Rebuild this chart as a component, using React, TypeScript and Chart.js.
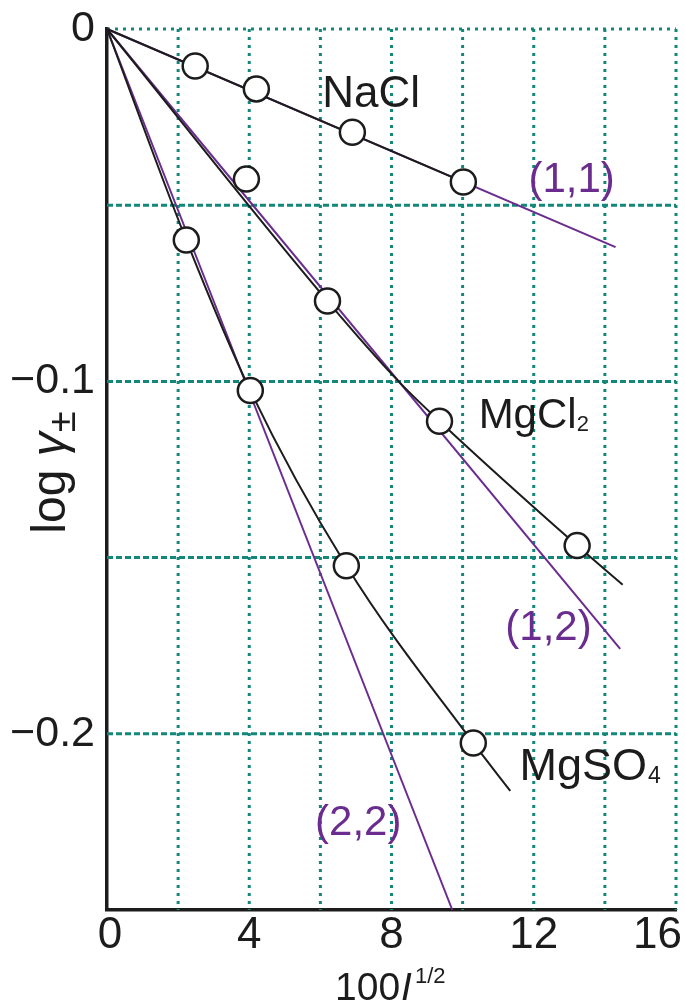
import React, { useEffect, useRef } from "react";
import { Chart, registerables } from "chart.js";

Chart.register(...registerables);

// Measured points (x = 100·I^1/2, y = log γ±)
const naclX = [2.48, 4.2, 6.9, 10.02];
const naclY = [-0.0105, -0.017, -0.0293, -0.0434];
const mgcl2X = [3.92, 6.2, 9.35, 13.22];
const mgcl2Y = [-0.0426, -0.0772, -0.1113, -0.1466];
const mgso4X = [2.23, 4.03, 6.73, 10.3];
const mgso4Y = [-0.0599, -0.1026, -0.1523, -0.2026];

// Black fitted curves
const naclFitX = [0, 10.02];
const naclFitY = [0, -0.0434];
const mgcl2FitX = [0, 6.2, 8.2, 9.35, 13.22, 14.5];
const mgcl2FitY = [0, -0.0772, -0.1, -0.1113, -0.1466, -0.1577];
const mgso4FitX = [0, 2.23, 4.03, 6.73, 10.3, 11.34];
const mgso4FitY = [0, -0.0599, -0.1026, -0.1523, -0.2026, -0.2162];

// Purple limiting-law lines
const lim11X = [0, 14.3];
const lim11Y = [0, -0.0619];
const lim12X = [0, 14.43];
const lim12Y = [0, -0.1759];
const lim22X = [0, 9.71];
const lim22Y = [0, -0.25];

// Axes
const xMin = 0;
const xMax = 16;
const yMin = -0.25;
const yMax = 0;
const xLabelTicks = [0, 4, 8, 12, 16];
const yLabelTicks = [0, -0.1, -0.2];
const yLabelText = ["0", "\u22120.1", "\u22120.2"];
const xGridValues = [2, 4, 6, 8, 10, 12, 14, 16];
const yGridValues = [0, -0.05, -0.1, -0.15, -0.2];

const FONT = '"Liberation Sans", Arial, sans-serif';
const BLACK = "#1c1c1c";
const PURPLE = "#6a2c8e";
const TEAL = "#13877a";

const pts = (xs: number[], ys: number[]) => xs.map((x, i) => ({ x, y: ys[i] }));

type Part = { t: string; size: number; dy?: number; dx?: number; italic?: boolean };

function drawParts(ctx: CanvasRenderingContext2D, parts: Part[], x: number, y: number, color: string) {
  ctx.fillStyle = color;
  ctx.textBaseline = "alphabetic";
  ctx.textAlign = "left";
  let cx = x;
  for (const p of parts) {
    ctx.font = `${p.italic ? "italic " : ""}${p.size}px ${FONT}`;
    cx += p.dx || 0;
    ctx.fillText(p.t, cx, y + (p.dy || 0));
    cx += ctx.measureText(p.t).width;
  }
}

const gridPlugin = {
  id: "customGrid",
  beforeDatasetsDraw(chart: any) {
    const { ctx, chartArea, scales } = chart;
    ctx.save();
    ctx.strokeStyle = TEAL;
    ctx.lineWidth = 3;
    ctx.setLineDash([3, 5]);
    for (const v of xGridValues) {
      const px = scales.x.getPixelForValue(v);
      ctx.beginPath();
      ctx.moveTo(px, chartArea.top);
      ctx.lineTo(px, chartArea.bottom);
      ctx.stroke();
    }
    for (const v of yGridValues) {
      const py = scales.y.getPixelForValue(v);
      ctx.setLineDash(v === 0 ? [3, 5] : [6, 3]);
      ctx.beginPath();
      ctx.moveTo(chartArea.left, py);
      ctx.lineTo(chartArea.right, py);
      ctx.stroke();
    }
    ctx.restore();
  },
};

const textPlugin = {
  id: "customText",
  afterDraw(chart: any) {
    const { ctx, scales, chartArea, width } = chart;
    const X = (v: number) => scales.x.getPixelForValue(v);
    const Y = (v: number) => scales.y.getPixelForValue(v);
    ctx.save();
    // x tick labels (last one kept inside the canvas)
    ctx.font = `44px ${FONT}`;
    ctx.fillStyle = BLACK;
    ctx.textBaseline = "alphabetic";
    xLabelTicks.forEach((v, i) => {
      const label = String(v);
      const w = ctx.measureText(label).width;
      let cx = X(v) + (i === 0 ? 3 : 0);
      if (cx + w / 2 > width - 3) cx = width - 3 - w / 2;
      ctx.textAlign = "center";
      ctx.fillText(label, cx, chartArea.bottom + 38);
    });

    drawParts(ctx, [{ t: "NaCl", size: 44 }], X(6.05), Y(-0.0221), BLACK);
    drawParts(ctx, [{ t: "(1,1)", size: 42 }], X(11.85), Y(-0.0463), PURPLE);
    drawParts(ctx, [{ t: "MgCl", size: 42 }, { t: "2", size: 22, dy: 3 }], X(10.45), Y(-0.1132), BLACK);
    drawParts(ctx, [{ t: "(1,2)", size: 42 }], X(11.2), Y(-0.1734), PURPLE);
    drawParts(ctx, [{ t: "MgSO", size: 45 }, { t: "4", size: 23, dy: 3, dx: 1 }], X(11.6), Y(-0.2131), BLACK);
    drawParts(ctx, [{ t: "(2,2)", size: 42 }], X(5.85), Y(-0.2287), PURPLE);

    // x axis title: 100 I^1/2
    drawParts(
      ctx,
      [{ t: "100", size: 39 }, { t: "I", size: 39, italic: true, dx: 1 }, { t: "1/2", size: 22, dy: -17, dx: 3 }],
      335,
      1000,
      BLACK
    );

    // y axis title: log γ± (rotated)
    ctx.save();
    ctx.translate(65, Y(-0.1432));
    ctx.rotate(-Math.PI / 2);
    drawParts(ctx, [{ t: "log ", size: 48 }, { t: "\u03B3", size: 48, italic: true }, { t: "\u00B1", size: 38, dy: 10 }], 0, 0, BLACK);
    ctx.restore();
    ctx.restore();
  },
};

export default function App() {
  const ref = useRef<HTMLCanvasElement | null>(null);
  useEffect(() => {
    if (!ref.current) return;
    const line = (xs: number[], ys: number[], color: string, order: number, monotone = false) => ({
      type: "line" as const,
      data: pts(xs, ys),
      borderColor: color,
      borderWidth: 2,
      pointRadius: 0,
      fill: false,
      order,
      cubicInterpolationMode: monotone ? ("monotone" as const) : ("default" as const),
      tension: 0,
    });
    const markers = (xs: number[], ys: number[]) => ({
      type: "scatter" as const,
      data: pts(xs, ys),
      showLine: false,
      pointRadius: 12.5,
      pointBorderWidth: 2.5,
      pointBackgroundColor: "#ffffff",
      pointBorderColor: BLACK,
      order: 0,
    });
    const chart = new Chart(ref.current, {
      type: "line",
      data: {
        datasets: [
          markers(naclX, naclY),
          markers(mgcl2X, mgcl2Y),
          markers(mgso4X, mgso4Y),
          line(naclFitX, naclFitY, BLACK, 1),
          line(mgcl2FitX, mgcl2FitY, BLACK, 1, true),
          line(mgso4FitX, mgso4FitY, BLACK, 1, true),
          line(lim11X, lim11Y, PURPLE, 2),
          line(lim12X, lim12Y, PURPLE, 2),
          line(lim22X, lim22Y, PURPLE, 2),
        ] as any,
      },
      options: {
        animation: false,
        responsive: false,
        maintainAspectRatio: false,
        clip: false as any,
        layout: { autoPadding: false, padding: { left: 0, right: 9, top: 29, bottom: 0 } },
        plugins: { legend: { display: false }, tooltip: { enabled: false } },
        scales: {
          x: {
            type: "linear",
            min: xMin,
            max: xMax,
            grid: { display: false, drawTicks: false },
            border: { display: true, color: BLACK, width: 3.5 },
            ticks: { display: false },
            afterFit: (s: any) => {
              s.height = 98;
              s.paddingLeft = 0;
              s.paddingRight = 0;
            },
          },
          y: {
            type: "linear",
            min: yMin,
            max: yMax,
            grid: { display: false, drawTicks: false },
            border: { display: true, color: BLACK, width: 3.5 },
            afterBuildTicks: (s: any) => {
              s.ticks = yLabelTicks.map((v) => ({ value: v }));
            },
            ticks: {
              font: { family: FONT, size: 43 },
              color: BLACK,
              padding: 12,
              autoSkip: false,
              callback: (v: any) => {
                const i = yLabelTicks.findIndex((t) => Math.abs(t - v) < 1e-9);
                return i >= 0 ? yLabelText[i] : "";
              },
            },
            afterFit: (s: any) => {
              s.width = 107;
              s.paddingTop = 0;
              s.paddingBottom = 0;
            },
          },
        },
      },
      plugins: [gridPlugin, textPlugin],
    });
    return () => chart.destroy();
  }, []);
  return (
    <div style={{ position: "fixed", left: 0, top: 0, width: 685, height: 1008, background: "#fff" }}>
      <canvas ref={ref} width={685} height={1008} style={{ display: "block" }} />
    </div>
  );
}
